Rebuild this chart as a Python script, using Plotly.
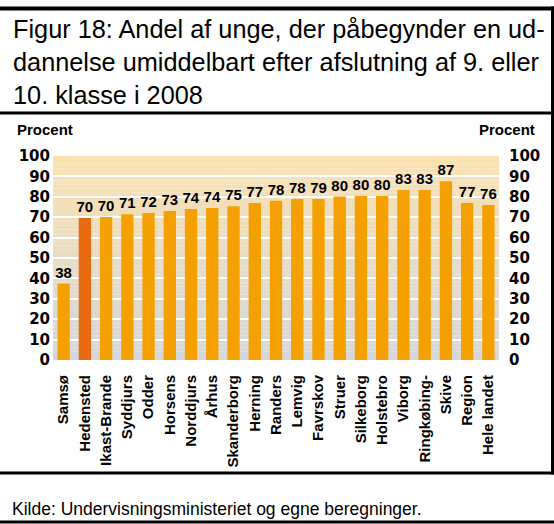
import plotly.graph_objects as go

categories = ["Samsø", "Hedensted", "Ikast-Brande", "Syddjurs", "Odder", "Horsens",
              "Norddjurs", "Århus", "Skanderborg", "Herning", "Randers", "Lemvig",
              "Favrskov", "Struer", "Silkeborg", "Holstebro", "Viborg", "Ringkøbing-",
              "Skive", "Region", "Hele landet"]
values = [37.5, 69.6, 70.1, 71.5, 72.1, 73.0, 74.0, 74.5, 75.4, 77.0, 78.1, 78.9,
          78.9, 80.1, 80.4, 80.4, 83.3, 83.3, 87.6, 77.0, 76.0]
value_labels = ["38", "70", "70", "71", "72", "73", "74", "74", "75", "77", "78", "78",
                "79", "80", "80", "80", "83", "83", "87", "77", "76"]
highlight = "Hedensted"
y_ticks = [0, 10, 20, 30, 40, 50, 60, 70, 80, 90, 100]

title_lines = ["Figur 18: Andel af unge, der påbegynder en ud-",
               "dannelse umiddelbart efter afslutning af 9. eller",
               "10. klasse i 2008"]
axis_title = "Procent"
source = "Kilde: Undervisningsministeriet og egne beregninger."

W, H = 554, 524
ML, MR, MT, MB = 53, 55, 156, 164
PW, PH = W - ML - MR, H - MT - MB


def px(x):
    return (x - ML) / PW


def py(y):
    return (H - MB - y) / PH


BAR = "#F4A000"
BAR_HI = "#E96A10"
colors = [BAR_HI if c == highlight else BAR for c in categories]

CHART_FONT = "Arial, Liberation Sans, sans-serif"
TICK_FONT = "DejaVu Sans, Verdana, sans-serif"
TITLE_FONT = "Arial, Liberation Sans, sans-serif"

fig = go.Figure()
fig.add_trace(go.Bar(
    x=categories, y=values, marker=dict(color=colors, line=dict(width=0)),
    text=value_labels, textposition="outside", cliponaxis=False, constraintext="none",
    textfont=dict(family=CHART_FONT, size=15, color="black", weight="bold"),
    hoverinfo="skip", showlegend=False,
))
fig.add_trace(go.Scatter(
    x=categories, y=values, yaxis="y2", mode="lines",
    line=dict(width=0), opacity=0, hoverinfo="skip", showlegend=False,
))

# gradient plot background
shapes = []
n = 50
c0 = (213, 215, 218)
c1 = (251, 225, 175)
for i in range(n):
    t = (i + 0.5) / n
    col = tuple(round(c0[k] + (c1[k] - c0[k]) * t) for k in range(3))
    shapes.append(dict(type="rect", xref="paper", yref="y", x0=0, x1=1,
                       y0=100 * i / n, y1=100 * (i + 1) / n, layer="below",
                       line=dict(width=0), fillcolor="rgb(%d,%d,%d)" % col))


# frame lines
def hline(y, w, x0=0, x1=W):
    shapes.append(dict(type="line", xref="paper", yref="paper", x0=px(x0), x1=px(x1),
                       y0=py(y), y1=py(y), line=dict(color="black", width=w), layer="above"))


hline(8.5, 4)
hline(113, 3)
hline(473, 3)
hline(522, 3)
shapes.append(dict(type="line", xref="paper", yref="paper", x0=px(552.5), x1=px(552.5),
                   y0=py(6.5), y1=py(474.5), line=dict(color="black", width=3), layer="above"))

annotations = []
for i, line in enumerate(title_lines):
    annotations.append(dict(text=line, xref="paper", yref="paper", x=px(11), y=py(28.5 + 33 * i),
                            xanchor="left", yanchor="middle", showarrow=False,
                            font=dict(family=TITLE_FONT, size=25.3, color="black")))
annotations.append(dict(text=axis_title, xref="paper", yref="paper", x=px(15), y=py(129),
                        xanchor="left", yanchor="middle", showarrow=False,
                        font=dict(family=CHART_FONT, size=15, color="black", weight="bold")))
annotations.append(dict(text=axis_title, xref="paper", yref="paper", x=px(537), y=py(129),
                        xanchor="right", yanchor="middle", showarrow=False,
                        font=dict(family=CHART_FONT, size=15, color="black", weight="bold")))
annotations.append(dict(text=source, xref="paper", yref="paper", x=px(10), y=py(509),
                        xanchor="left", yanchor="middle", showarrow=False,
                        font=dict(family=TITLE_FONT, size=17.5, color="black")))

xtickfont = dict(family=CHART_FONT, size=15, color="black", weight="bold")
ytickfont = dict(family=TICK_FONT, size=15, color="black", weight="bold")
fig.update_layout(
    width=W, height=H, autosize=False,
    margin=dict(l=ML, r=MR, t=MT, b=MB, pad=0, autoexpand=False),
    paper_bgcolor="white", plot_bgcolor="white",
    bargap=0.42,
    shapes=shapes, annotations=annotations,
    xaxis=dict(type="category", range=[-0.5, len(categories) - 0.5], tickangle=-90,
               tickfont=xtickfont, showgrid=False, automargin=False,
               showline=False, ticks="", ticklabelstandoff=11, fixedrange=True),
    yaxis=dict(range=[0, 100], tickvals=y_ticks, showgrid=True, gridcolor="white",
               gridwidth=2, zeroline=False, showline=False, ticks="", tickfont=ytickfont,
               automargin=False, ticklabelstandoff=2, fixedrange=True),
    yaxis2=dict(range=[0, 100], tickvals=y_ticks, overlaying="y", side="right",
                showgrid=False, zeroline=False, showline=False, ticks="", tickfont=ytickfont,
                automargin=False, ticklabelstandoff=9, fixedrange=True),
)

fig.write_html("out.html", config={"displayModeBar": False, "staticPlot": True},
               post_script="document.body.style.margin='0';")
